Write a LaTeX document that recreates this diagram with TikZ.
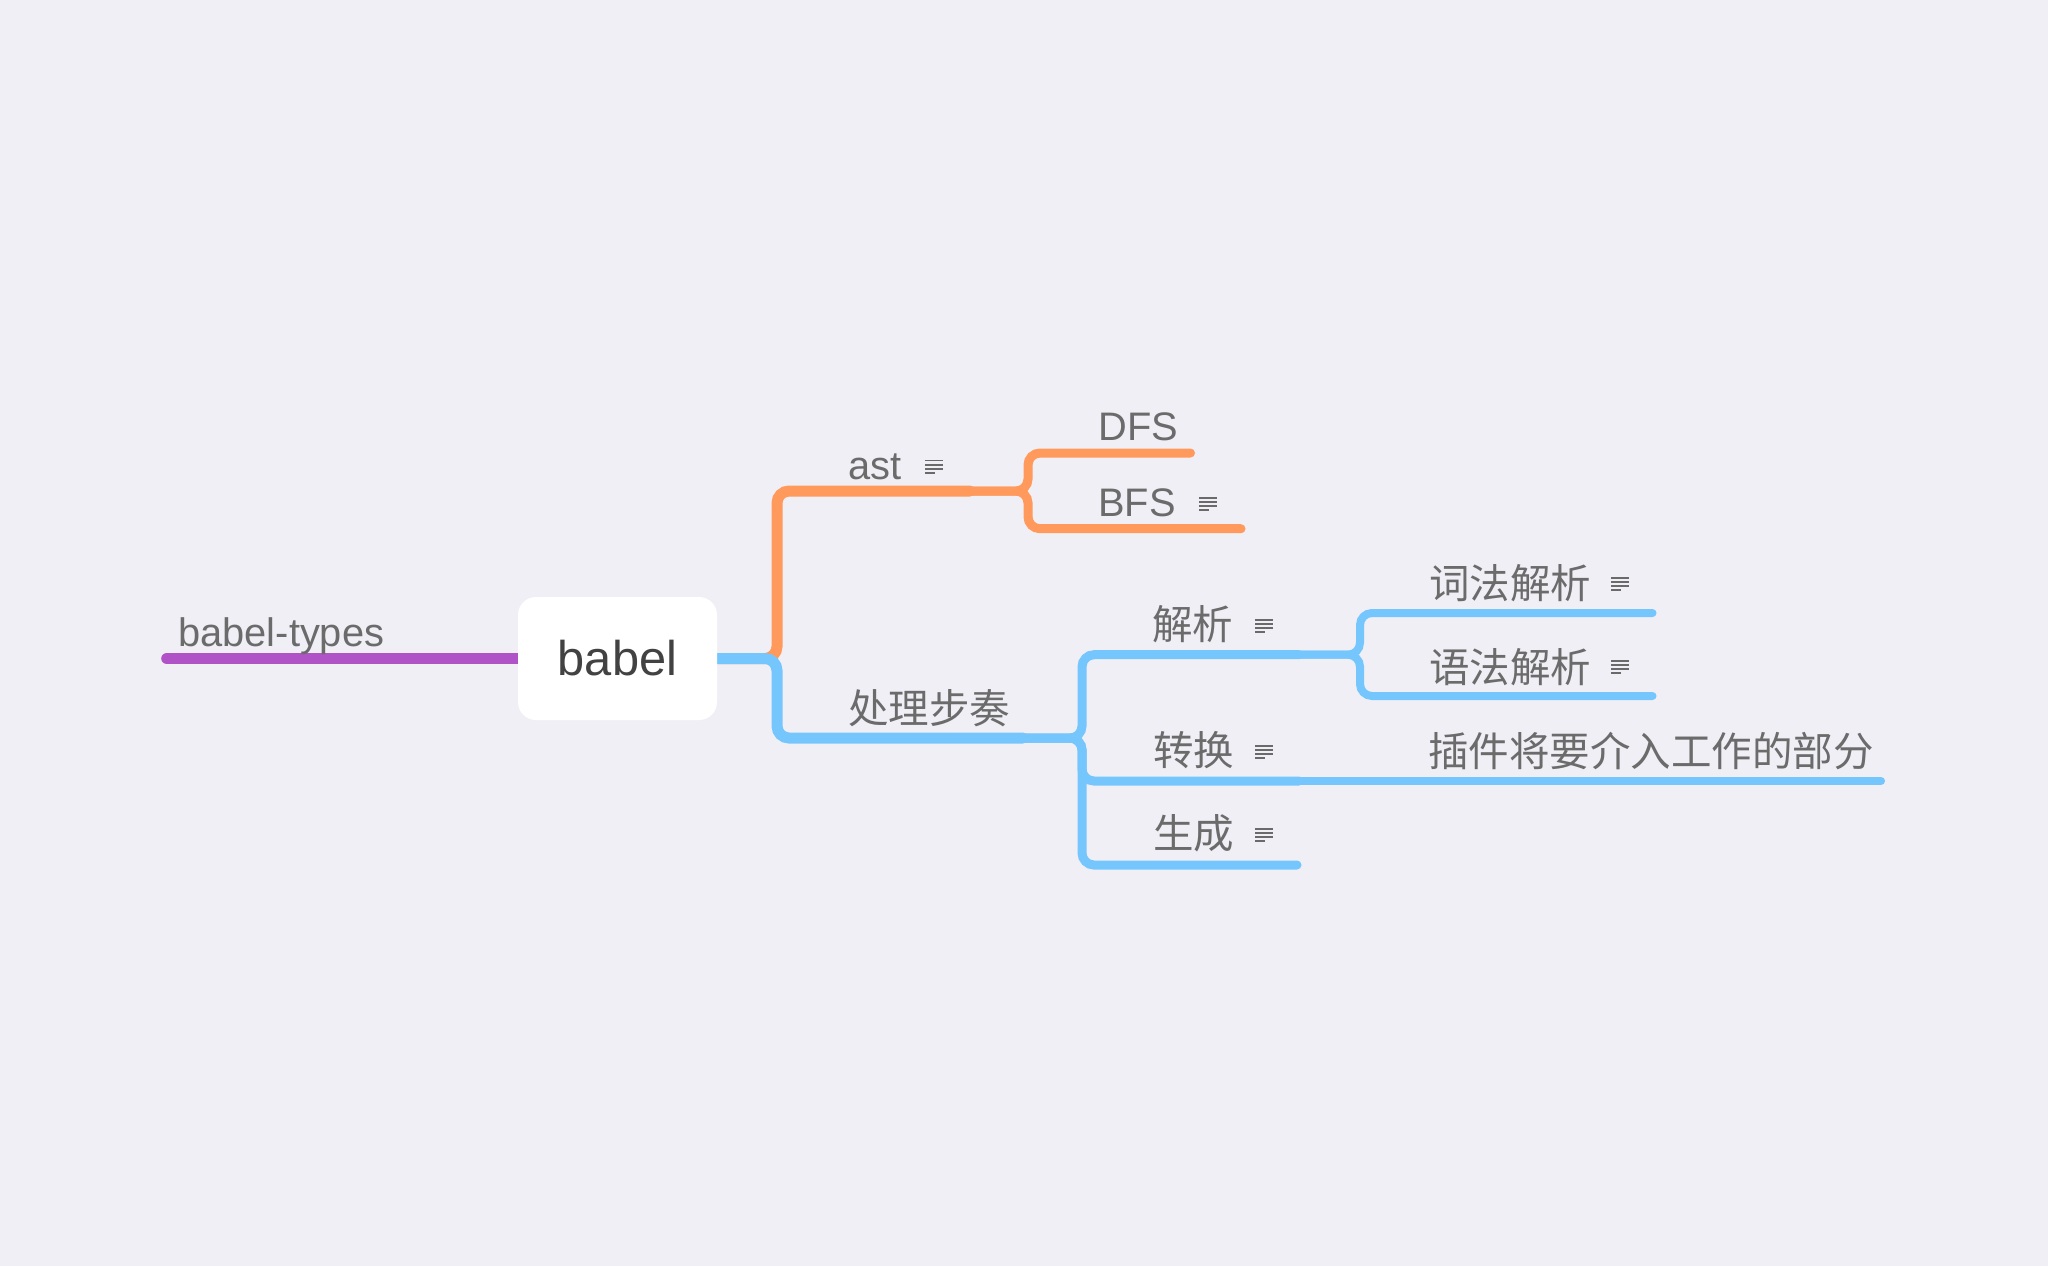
\documentclass[tikz,border=0pt]{standalone}
\usepackage{fontspec}
\setmainfont{Liberation Sans}
\newfontfamily\cjk{Noto Sans CJK SC}
\usetikzlibrary{backgrounds}
\definecolor{bg}{HTML}{F0EFF5}
\definecolor{orng}{HTML}{FF9A5C}
\definecolor{sky}{HTML}{76C6FE}
\definecolor{purp}{HTML}{B053C6}
\definecolor{txt}{HTML}{6B6B6B}
\definecolor{roottxt}{HTML}{424242}
\definecolor{icn}{HTML}{6A6A6A}
\begin{document}
\begin{tikzpicture}[x=0.5pt,y=-0.5pt,
  lbl/.style={inner sep=0pt, anchor=base west, text=txt, font=\fontsize{19.9pt}{22pt}\selectfont},
  cjklbl/.style={lbl, font=\cjk\fontsize{20.25pt}{24pt}\selectfont},
  rootbox/.style={fill=white, rounded corners=9pt, minimum width=99.5pt, minimum height=61.5pt, inner sep=0pt, text=roottxt, font=\fontsize{24.4pt}{28pt}\selectfont},
  conn/.style={line cap=round, rounded corners=6pt},
  lone/.style={conn, line width=5.5pt},
  ltwo/.style={conn, line width=4.5pt},
  lthree/.style={conn, line width=4pt},
  noteicon/.pic={\draw[icn, line width=0.9pt] (0,0)--(18,0) (0,4.1)--(18,4.1) (0,8.2)--(18,8.2) (0,12.3)--(10,12.3);}
]
\useasboundingbox (0,0) rectangle (2048,1266);

% nodes
\node[rootbox] (root) at (617.5,658.5) {babel};
\node[lbl] (types) at (178,646.7) {babel-types};
\node[lbl] (ast) at (848,479) {ast};
\node[lbl] (dfs) at (1098,440.7) {DFS};
\node[lbl] (bfs) at (1098,516.7) {BFS};
\node[cjklbl] (proc) at (848,723.7) {处理步奏};
\node[cjklbl] (parse) at (1152,639.7) {解析};
\node[cjklbl] (trans) at (1153,765.3) {转换};
\node[cjklbl] (gen) at (1153,848.7) {生成};
\node[cjklbl] (lex) at (1429,598.7) {词法解析};
\node[cjklbl] (syn) at (1429,682) {语法解析};
\node[cjklbl] (plug) at (1428,766.3) {插件将要介入工作的部分};

% note icons
\pic at (925,460.5) {noteicon};
\pic at (1199,498) {noteicon};
\pic at (1255,620) {noteicon};
\pic at (1255,746) {noteicon};
\pic at (1255,829) {noteicon};
\pic at (1611,578) {noteicon};
\pic at (1611,661) {noteicon};

% topic underline coordinates
\coordinate (typesE) at (167,658.5);
\coordinate (astA) at (777,491);   \coordinate (astE) at (970,491);
\coordinate (procA) at (777,738);  \coordinate (procE) at (1023,738);
\coordinate (dfsA) at (1028,453);  \coordinate (dfsE) at (1190.5,453);
\coordinate (bfsA) at (1028,528.7);\coordinate (bfsE) at (1241,528.7);
\coordinate (parseA) at (1082,654.7); \coordinate (parseE) at (1299,654.7);
\coordinate (transA) at (1082,781);   \coordinate (transE) at (1299,781);
\coordinate (genA) at (1082,865);     \coordinate (genE) at (1297,865);
\coordinate (lexA) at (1360,613);     \coordinate (lexE) at (1652.5,613);
\coordinate (synA) at (1360,696);     \coordinate (synE) at (1652.5,696);
\coordinate (plugE) at (1881,781);

\begin{pgfonlayer}{background}
\fill[bg] (0,0) rectangle (2048,1266);
% left branch
\draw[purp, line width=5.8pt, line cap=round] (root.center) -- (typesE);
% ast branch
\draw[orng, lone] (root.east) -| (astA) -- (astE);
\draw[orng, ltwo] (astE) -| (dfsA) -- (dfsE);
\draw[orng, ltwo] (astE) -| (bfsA) -- (bfsE);
% processing branch
\draw[sky, lone] (root.east) -| (procA) -- (procE);
\draw[sky, ltwo] (procE) -| (parseA) -- (parseE);
\draw[sky, ltwo] (procE) -| (transA) -- (transE);
\draw[sky, ltwo] (procE) -| (genA) -- (genE);
\draw[sky, lthree] (parseE) -| (lexA) -- (lexE);
\draw[sky, lthree] (parseE) -| (synA) -- (synE);
\draw[sky, lthree] (transE) -- (plugE);
\end{pgfonlayer}
\end{tikzpicture}
\end{document}
